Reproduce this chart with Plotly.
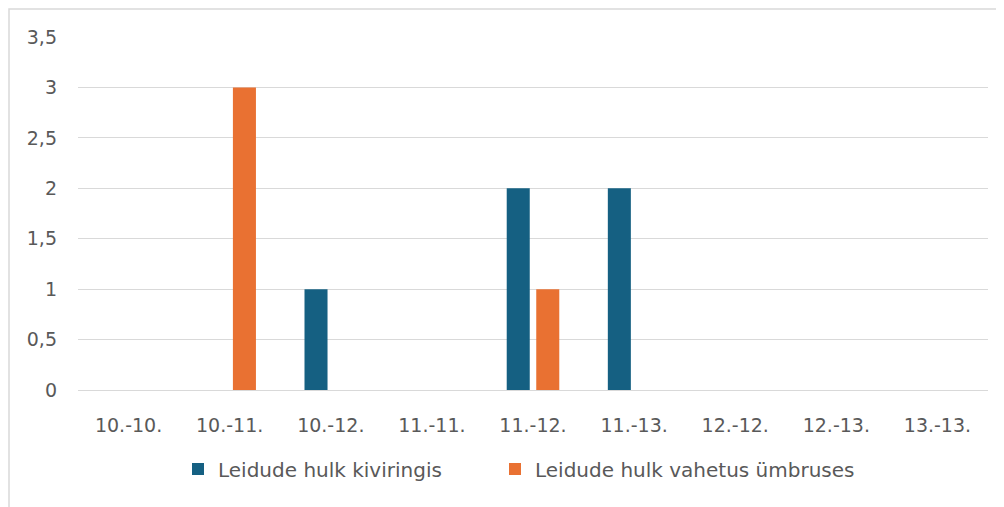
import plotly.graph_objects as go

categories = ["10.-10.", "10.-11.", "10.-12.", "11.-11.", "11.-12.", "11.-13.", "12.-12.", "12.-13.", "13.-13."]
kiviringis = [0, 0, 1, 0, 2, 2, 0, 0, 0]
umbruses = [0, 3, 0, 0, 1, 0, 0, 0, 0]
y_ticks = [0, 0.5, 1, 1.5, 2, 2.5, 3, 3.5]

# page is drawn with an 8px body margin, so figure coordinates = page - 8
W, H = 996, 499
L, T = 70, 29
R = W - 980
B = H - 382
pw, ph = W - L - R, H - T - B

fig = go.Figure()
fig.add_trace(go.Bar(x=categories, y=kiviringis, name="Leidude hulk kiviringis",
                     marker=dict(color="#156082", line=dict(width=0)), legend="legend"))
fig.add_trace(go.Bar(x=categories, y=umbruses, name="Leidude hulk vahetus ümbruses",
                     marker=dict(color="#E97132", line=dict(width=0)), legend="legend2"))

font_family = "DejaVu Sans, sans-serif"
legend_common = dict(orientation="h", xanchor="left", y=(390 - 469) / 353, yanchor="middle",
                     font=dict(size=20, color="#595959"), itemwidth=30,
                     bgcolor="rgba(0,0,0,0)")
fig.update_layout(
    width=W, height=H,
    margin=dict(l=L, r=R, t=T, b=B),
    paper_bgcolor="white", plot_bgcolor="white",
    separators=", ",
    barmode="group", bargap=0.416, bargroupgap=0.22,
    font=dict(family=font_family, size=19, color="#595959"),
    showlegend=True,
    legend=dict(x=(178 - 78) / 910, **legend_common),
    legend2=dict(x=(495 - 78) / 910, **legend_common),
    xaxis=dict(showgrid=False, showline=True, linecolor="#D9D9D9", linewidth=1,
               ticks="", ticklabelstandoff=18, tickfont=dict(size=19, color="#595959")),
    yaxis=dict(range=[0, 3.5], tickvals=y_ticks, showgrid=True, gridcolor="#D9D9D9",
               gridwidth=1, zeroline=False, showline=False, ticks="",
               ticklabelstandoff=20, tickfont=dict(size=19, color="#595959")),
)

# chart-area border (extends beyond the view at right/bottom)
fig.add_shape(type="rect", xref="paper", yref="paper",
              x0=(1 - L) / pw, x1=(W + 10 - L) / pw,
              y0=(H - B - (H + 10)) / ph, y1=(H - B - 1) / ph,
              line=dict(color="#D9D9D9", width=1.5), fillcolor="rgba(0,0,0,0)", layer="below")

fig.write_html("out.html")
